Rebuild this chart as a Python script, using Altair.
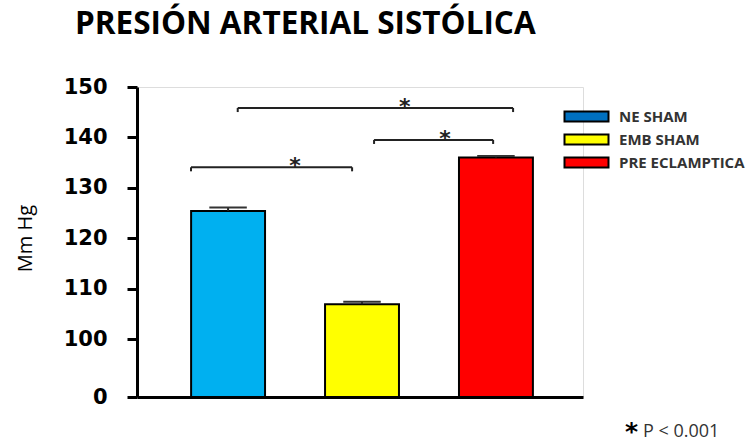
import altair as alt
import pandas as pd

# Grupos experimentales y presión arterial sistólica (media ± EE)
grupos = ["NE SHAM", "EMB SHAM", "PRE ECLAMPTICA"]
posicion = [1, 2, 3]
media = [125.4, 106.9, 136.0]
error = [0.7, 0.5, 0.3]
colores_barra = ["#00B0F0", "#FFFF00", "#FF0000"]
colores_leyenda = ["#0070C0", "#FFFF00", "#FF0000"]

# Comparaciones significativas (corchetes con asterisco)
corchete_inicio = [0.723, 2.09, 1.072]
corchete_fin = [1.926, 2.979, 3.128]
corchete_altura = [134.07, 139.5, 145.83]
asterisco_x = [1.50, 2.62, 2.32]

ticks_y = [0, 100, 110, 120, 130, 140, 150]

titulo = "PRESIÓN ARTERIAL SISTÓLICA"
nota = "P < 0.001"

MEDIA_BARRA = 0.276
MEDIA_TAPA = 0.14
CAIDA = 0.8

barras = pd.DataFrame({
    "grupo": grupos,
    "pos": posicion,
    "media": media,
    "err": error,
})
barras["x0"] = barras["pos"] - MEDIA_BARRA
barras["x1"] = barras["pos"] + MEDIA_BARRA
barras["c0"] = barras["pos"] - MEDIA_TAPA
barras["c1"] = barras["pos"] + MEDIA_TAPA
barras["sup"] = barras["media"] + barras["err"]

corchetes = pd.DataFrame({
    "x0": corchete_inicio,
    "x1": corchete_fin,
    "y": corchete_altura,
    "ax": asterisco_x,
})
corchetes["yb"] = corchetes["y"] - CAIDA

W, H = 446, 310
x_scale = alt.Scale(domain=[0.32, 3.65], nice=False, zero=False)
# eje Y con corte: 0 abajo, luego 100–150
y_scale = alt.Scale(domain=[0, 100, 150], range=[H, 252, 0], nice=False, zero=False)

x_axis = alt.Axis(labels=False, ticks=False, grid=False, title=None,
                  domainColor="black", domainWidth=3)
y_axis = alt.Axis(values=ticks_y, grid=False, title="Mm Hg",
                  domainColor="black", domainWidth=3,
                  tickColor="black", tickWidth=3, tickSize=10,
                  labelFont="DejaVu Sans", labelFontWeight="bold",
                  labelFontSize=21, labelColor="black", labelPadding=20,
                  titleFont="Open Sans", titleFontSize=20,
                  titleFontWeight="normal", titleColor="black",
                  titleAngle=270, titleX=-112, titleY=151,
                  titleAlign="center", titleBaseline="middle")

base = alt.Chart(barras)

rect = base.mark_bar(stroke="black", strokeWidth=2).encode(
    x=alt.X("x0:Q", scale=x_scale, axis=x_axis),
    x2="x1:Q",
    y=alt.Y("media:Q", scale=y_scale, axis=y_axis),
    y2=alt.datum(0),
    color=alt.Color("grupo:N", sort=grupos,
                    scale=alt.Scale(domain=grupos, range=colores_barra),
                    legend=None),
)

err_line = base.mark_rule(color="#222222", strokeWidth=2).encode(
    x="pos:Q", y="media:Q", y2="sup:Q"
)
err_cap = base.mark_rule(color="#333333", strokeWidth=2).encode(
    x="c0:Q", x2="c1:Q", y="sup:Q"
)

# leyenda (capa invisible con su propia escala de color)
leyenda = base.mark_point(opacity=0, filled=True).encode(
    x="pos:Q",
    y="media:Q",
    fill=alt.Fill(
        "grupo:N", sort=grupos,
        scale=alt.Scale(domain=grupos, range=colores_leyenda),
        legend=alt.Legend(
            title=None, orient="none", legendX=442, legendY=22,
            symbolType="M-4.4,-1H4.4V1H-4.4Z", symbolSize=100,
            symbolStrokeColor="black", symbolStrokeWidth=2,
            symbolOpacity=1, labelOffset=25,
            labelFont="Open Sans", labelFontWeight="bold",
            labelFontSize=15, labelColor="#333333",
            rowPadding=4, padding=0,
        ),
    ),
)

cb = alt.Chart(corchetes)
c_h = cb.mark_rule(color="#222222", strokeWidth=2).encode(
    x="x0:Q", x2="x1:Q", y="y:Q"
)
c_l = cb.mark_rule(color="#222222", strokeWidth=2).encode(
    x="x0:Q", y="y:Q", y2="yb:Q"
)
c_r = cb.mark_rule(color="#222222", strokeWidth=2).encode(
    x="x1:Q", y="y:Q", y2="yb:Q"
)
c_ast = cb.mark_text(text="*", font="DejaVu Sans", fontWeight="bold",
                     fontSize=22, color="#222222", baseline="alphabetic",
                     dy=6).encode(x="ax:Q", y="y:Q")

# título
titulo_txt = alt.Chart(pd.DataFrame({"t": [titulo]})).mark_text(
    font="Open Sans", fontWeight="bold", fontSize=31.5, color="black",
    align="left", baseline="alphabetic",
).encode(x=alt.value(-62), y=alt.value(-53), text="t:N")

# nota al pie
nota_ast = alt.Chart(pd.DataFrame({"t": ["*"]})).mark_text(
    font="DejaVu Sans", fontWeight="bold", fontSize=25, color="black",
    align="left", baseline="middle",
).encode(x=alt.value(488), y=alt.value(345), text="t:N")
nota_p = alt.Chart(pd.DataFrame({"t": [nota]})).mark_text(
    font="Open Sans", fontSize=18, color="#333333",
    align="left", baseline="alphabetic",
).encode(x=alt.value(506), y=alt.value(350), text="t:N")

chart = alt.layer(
    rect, err_line, err_cap, leyenda, c_h, c_l, c_r, c_ast,
    titulo_txt, nota_ast, nota_p
).resolve_scale(color="independent", fill="independent").properties(
    width=W, height=H,
    autosize=alt.AutoSizeParams(type="none"),
    padding={"left": 137, "top": 87, "right": 754 - 137 - W,
             "bottom": 445 - 87 - H},
).configure_view(stroke=None).configure(background="white")

chart.save("out.html", embed_options={"renderer": "svg", "actions": False})
